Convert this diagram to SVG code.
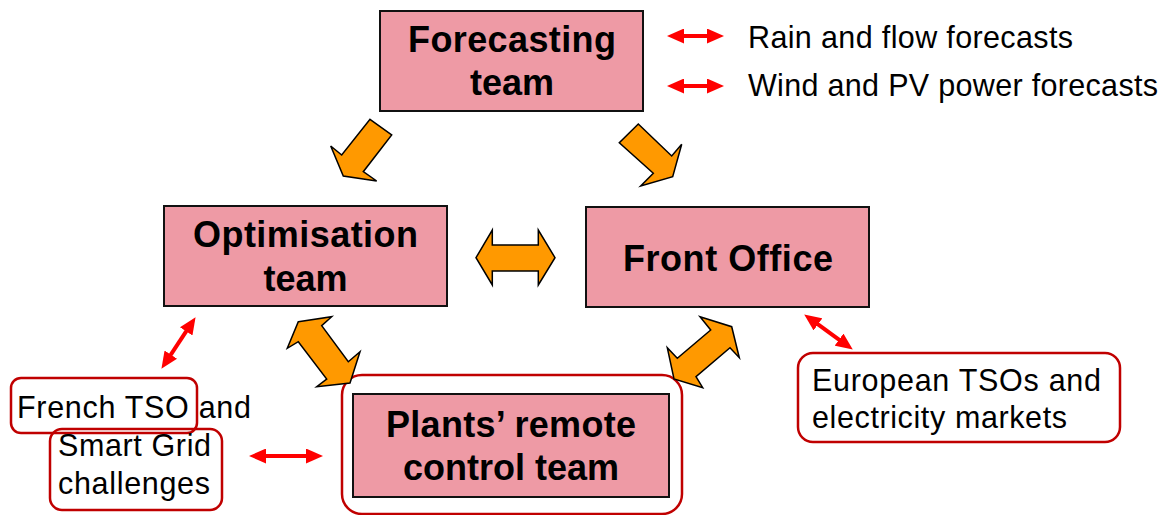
<svg xmlns="http://www.w3.org/2000/svg" width="1171" height="515" viewBox="0 0 1171 515">
<style>
.box{fill:#EE9AA5;stroke:#111;stroke-width:2}
.t{font-family:"Liberation Sans",Arial,sans-serif;font-weight:bold;font-size:36px;fill:#000;text-anchor:middle}
.n{font-family:"Liberation Sans",Arial,sans-serif;font-size:30.5px;fill:#000}
.rr{fill:none;stroke:#C00000;stroke-width:2.5}
.blk{fill:#FF9900;stroke:#000;stroke-width:1.5;stroke-linejoin:miter}
.red{stroke:#FF0000;stroke-width:4;fill:none;marker-start:url(#ah);marker-end:url(#ah)}
</style>
<defs>
<marker id="ah" viewBox="0 0 17 15" refX="8" refY="7.5" markerWidth="17" markerHeight="15" markerUnits="userSpaceOnUse" orient="auto-start-reverse">
<path d="M0,0 L17,7.5 L0,15 z" fill="#FF0000"/>
</marker>
</defs>
<rect width="1171" height="515" fill="#fff"/>

<g id="forecasting">
<rect class="box" x="380" y="11" width="263" height="100"/>
<text class="t" x="512" y="52" textLength="208">Forecasting</text>
<text class="t" x="512" y="95">team</text>
</g>

<g id="optimisation">
<rect class="box" x="164" y="206" width="283" height="100"/>
<text class="t" x="305.5" y="247" textLength="225">Optimisation</text>
<text class="t" x="305.5" y="291">team</text>
</g>

<g id="frontoffice">
<rect class="box" x="586" y="207" width="283" height="100"/>
<text class="t" x="728" y="271" textLength="210">Front Office</text>
</g>

<g id="plants">
<rect class="rr" x="342" y="375" width="340" height="139" rx="20"/>
<rect class="box" x="353" y="394" width="316" height="103"/>
<text class="t" x="511" y="437" textLength="250">Plants’ remote</text>
<text class="t" x="511" y="480">control team</text>
</g>

<g id="french">
<rect class="rr" x="11" y="378" width="186" height="55" rx="10"/>
<rect class="rr" x="50" y="429" width="172" height="81" rx="12"/>
<text class="n" x="17" y="418" textLength="234">French TSO and</text>
<text class="n" x="58" y="456" textLength="153">Smart Grid</text>
<text class="n" x="58" y="494" textLength="152">challenges</text>
</g>

<g id="european">
<rect class="rr" x="798" y="353" width="322" height="89" rx="15"/>
<text class="n" x="812" y="391" textLength="289">European TSOs and</text>
<text class="n" x="812" y="428" textLength="255">electricity markets</text>
</g>

<g id="forecast-labels">
<text class="n" x="748" y="48" textLength="325">Rain and flow forecasts</text>
<text class="n" x="748" y="96" textLength="410">Wind and PV power forecasts</text>
</g>

<g id="connectors">
<polygon class="blk" points="370,119.3 391.7,135 363.3,171.7 376.7,181 343.3,176 330.7,146 341.7,155"/>
<polygon class="blk" points="638.3,124 671.7,156 681.7,144.3 672.7,176.7 640.7,186 653.3,173.3 619.3,142.7"/>
<polygon class="blk" points="476,257.7 492.3,230 492.3,245 538.3,245 538.3,230 555,257.7 538.3,285 538.3,271 492.3,271 492.3,285"/>
<polygon class="blk" points="298.3,321.7 331.7,316.7 321.7,325.7 348.3,361.7 360,351.7 350,383 316.7,386.7 326.7,379 298.3,341.7 287.3,348.3"/>
<polygon class="blk" points="700,316.7 731.7,326.7 739.3,357.7 730,347.7 696,376.7 702.7,387.7 674,379 667.3,347.7 677.3,358.3 710.7,330"/>
<line class="red" x1="676" y1="36" x2="715" y2="36"/>
<line class="red" x1="676" y1="86" x2="715" y2="86"/>
<line class="red" x1="190.6" y1="324.7" x2="166.4" y2="361.3"/>
<line class="red" x1="258" y1="456" x2="314" y2="456"/>
<line class="red" x1="811.5" y1="319.7" x2="845.5" y2="344.3"/>
</g>
</svg>
